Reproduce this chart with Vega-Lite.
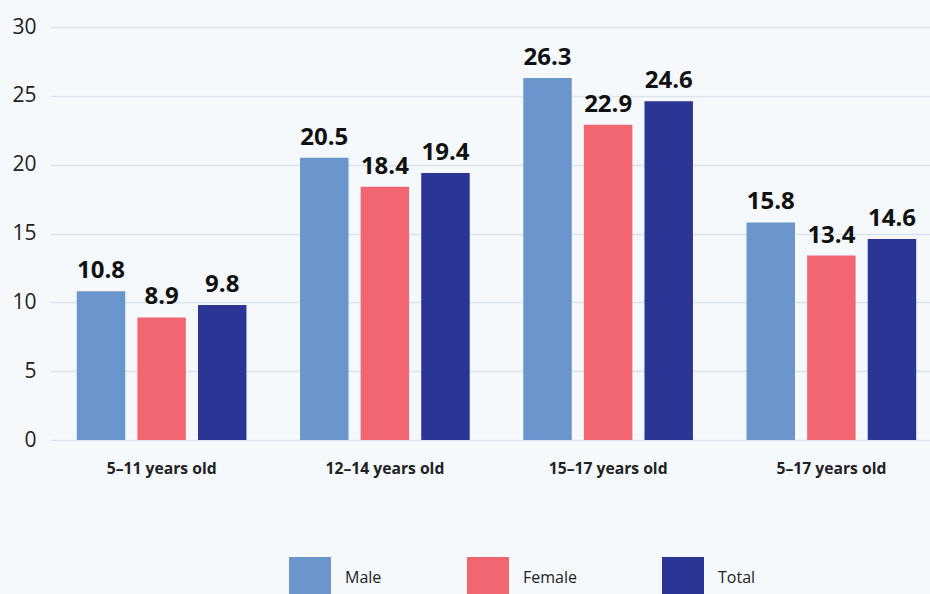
{
  "$schema": "https://vega.github.io/schema/vega-lite/v6.json",
  "autosize": {"type": "none"},
  "width": 880,
  "height": 413,
  "padding": {"left": 50, "top": 27, "right": 0, "bottom": 154},
  "background": "#f5f9fc",
  "config": {
    "view": {"stroke": null},
    "font": "Open Sans"
  },
  "data": {
    "values": [
      {"age": "5–11 years old", "sex": "Male", "value": 10.8},
      {"age": "5–11 years old", "sex": "Female", "value": 8.9},
      {"age": "5–11 years old", "sex": "Total", "value": 9.8},
      {"age": "12–14 years old", "sex": "Male", "value": 20.5},
      {"age": "12–14 years old", "sex": "Female", "value": 18.4},
      {"age": "12–14 years old", "sex": "Total", "value": 19.4},
      {"age": "15–17 years old", "sex": "Male", "value": 26.3},
      {"age": "15–17 years old", "sex": "Female", "value": 22.9},
      {"age": "15–17 years old", "sex": "Total", "value": 24.6},
      {"age": "5–17 years old", "sex": "Male", "value": 15.8},
      {"age": "5–17 years old", "sex": "Female", "value": 13.4},
      {"age": "5–17 years old", "sex": "Total", "value": 14.6}
    ]
  },
  "encoding": {
    "x": {
      "field": "age", "type": "nominal", "sort": null,
      "scale": {"paddingInner": 0.24, "paddingOuter": 0.12, "range": [0, 893]},
      "axis": {"title": null, "labelAngle": 0, "labelFontSize": 15.7, "labelFontWeight": "bold", "labelColor": "#222222", "labelPadding": 21, "ticks": false, "domain": false, "grid": false}
    },
    "xOffset": {
      "field": "sex", "type": "nominal", "sort": ["Male", "Female", "Total"],
      "scale": {"paddingInner": 0.2, "paddingOuter": 0}
    },
    "y": {
      "field": "value", "type": "quantitative",
      "scale": {"domain": [0, 30]},
      "axis": {"title": null, "values": [0, 5, 10, 15, 20, 25, 30], "labelFontSize": 21, "labelColor": "#222222", "labelPadding": 14, "ticks": false, "domain": false, "grid": true, "gridColor": "#dce3ea", "gridWidth": 1.5}
    }
  },
  "layer": [
    {
      "mark": {"type": "bar"},
      "encoding": {
        "color": {
          "field": "sex", "type": "nominal", "sort": ["Male", "Female", "Total"],
          "scale": {"domain": ["Male", "Female", "Total"], "range": ["#6a96cd", "#f26672", "#2b3593"]},
          "legend": {
            "title": null, "orient": "none", "direction": "horizontal", "columns": 3,
            "legendX": 239, "legendY": 530,
            "symbolType": "square", "symbolSize": 1764, "symbolStrokeWidth": 0, "symbolOpacity": 1,
            "labelFontSize": 16, "labelColor": "#222222", "labelOffset": 14,
            "columnPadding": 85
          }
        }
      }
    },
    {
      "mark": {"type": "text", "fontSize": 24, "fontWeight": "bold", "color": "#111111", "baseline": "alphabetic", "dy": -13},
      "encoding": {
        "text": {"field": "value", "type": "quantitative", "format": ".1f"}
      }
    }
  ]
}
